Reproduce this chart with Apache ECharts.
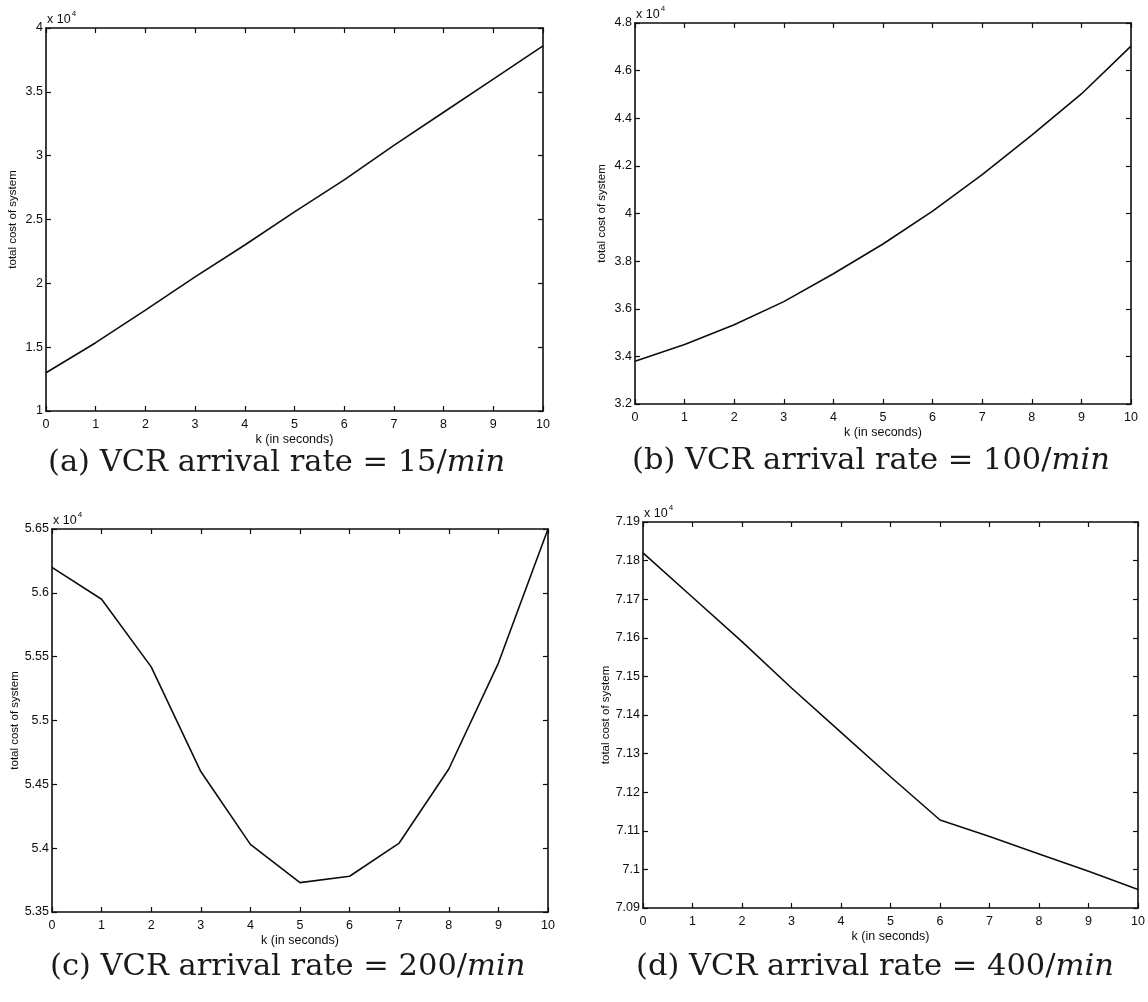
<!DOCTYPE html>
<html>
<head>
<meta charset="utf-8">
<script src="https://cdn.jsdelivr.net/npm/echarts@6/dist/echarts.min.js"></script>
<style>
html,body{margin:0;padding:0;background:#fff;}
#chart{width:1148px;height:1002px;}
</style>
</head>
<body>
<div id="chart"></div>
<script>
// ---- data (values in units of cost; axis labels shown in x 10^4) ----
const kSeconds = [0, 1, 2, 3, 4, 5, 6, 7, 8, 9, 10];
const costRate15  = [13000, 15350, 17900, 20500, 23000, 25600, 28100, 30800, 33400, 36000, 38600];
const costRate100 = [33800, 34500, 35330, 36300, 37470, 38720, 40100, 41630, 43290, 45020, 47030];
const costRate200 = [56200, 55950, 55420, 54600, 54030, 53730, 53780, 54040, 54620, 55450, 56500];
const costRate400 = [71820, 71705, 71590, 71470, 71355, 71240, 71128, 71085, 71040, 70995, 70948];
const captionPrefixes = ['(a) VCR arrival rate = 15/', '(b) VCR arrival rate = 100/', '(c) VCR arrival rate = 200/', '(d) VCR arrival rate = 400/'];
const captionUnit = 'min';
const yTitle = 'total cost of system';
const xTitle = 'k (in seconds)';
const yRanges = [[10000, 40000, 5000], [32000, 48000, 2000], [53500, 56500, 500], [70900, 71900, 100]];
const seriesList = [costRate15, costRate100, costRate200, costRate400];

// ---- layout ----
const grids = [
  {left: 46,  top: 28,  width: 497, height: 383},
  {left: 635, top: 23,  width: 496, height: 381},
  {left: 52,  top: 529, width: 496, height: 383},
  {left: 643, top: 522, width: 497, height: 386}
];
const captionPos = [[48, 468], [632, 466], [50, 972], [636, 972]];

const sans = 'Liberation Sans, Arial, sans-serif';
const ink = '#0d0d0d';
const lineStyle = {color: ink, width: 1.6};
const tick = {show: true, inside: true, length: 5, lineStyle: {color: ink, width: 1.2}};

const xAxes = [], yAxes = [], series = [], graphic = [];
grids.forEach((g, i) => {
  xAxes.push({
    type: 'value', gridIndex: i, min: 0, max: 10, interval: 1, position: 'bottom',
    axisLine: {show: true, onZero: false, lineStyle},
    axisTick: tick, splitLine: {show: false},
    axisLabel: {color: ink, fontFamily: sans, fontSize: 12.5, margin: 7},
    name: xTitle, nameLocation: 'middle', nameGap: 22,
    nameTextStyle: {color: ink, fontFamily: sans, fontSize: 12.5}
  });
  xAxes.push({
    type: 'value', gridIndex: i, min: 0, max: 10, interval: 1, position: 'top',
    axisLine: {show: true, onZero: false, lineStyle},
    axisTick: tick, splitLine: {show: false}, axisLabel: {show: false}
  });
  const r = yRanges[i];
  yAxes.push({
    type: 'value', gridIndex: i, min: r[0], max: r[1], interval: r[2], position: 'left',
    axisLine: {show: true, onZero: false, lineStyle},
    axisTick: tick, splitLine: {show: false},
    axisLabel: {color: ink, fontFamily: sans, fontSize: 12.5, margin: 3,
      formatter: v => String(+(v / 1e4).toFixed(4))},
    name: yTitle, nameLocation: 'middle', nameGap: 27, nameRotate: 90,
    nameTextStyle: {color: ink, fontFamily: sans, fontSize: 11.5}
  });
  yAxes.push({
    type: 'value', gridIndex: i, min: r[0], max: r[1], interval: r[2], position: 'right',
    axisLine: {show: true, onZero: false, lineStyle},
    axisTick: tick, splitLine: {show: false}, axisLabel: {show: false}
  });
  series.push({
    type: 'line', xAxisIndex: 2 * i, yAxisIndex: 2 * i,
    data: kSeconds.map((k, j) => [k, seriesList[i][j]]),
    showSymbol: false, symbol: 'none', smooth: false,
    lineStyle: {color: ink, width: 1.6}, animation: false
  });
  graphic.push({
    type: 'text', left: g.left + 1, top: g.top - 18,
    style: {
      text: '{b|x 10}{s|4}',
      rich: {
        b: {fontFamily: sans, fontSize: 12.5, fill: ink, verticalAlign: 'bottom'},
        s: {fontFamily: sans, fontSize: 8, fill: ink, verticalAlign: 'top', padding: [0, 0, 8, 1]}
      }
    }
  });
  graphic.push({
    type: 'text', left: captionPos[i][0], top: captionPos[i][1] - 20,
    style: {
      text: '{n|' + captionPrefixes[i] + '}{it|' + captionUnit + '}',
      rich: {
        n: {fontFamily: 'DejaVu Serif', fontSize: 30.5, fill: '#1a1a1a'},
        it: {fontFamily: 'DejaVu Serif', fontStyle: 'italic', fontSize: 30.5, fill: '#1a1a1a'}
      }
    }
  });
});

const chart = echarts.init(document.getElementById('chart'), null, {renderer: 'canvas'});
chart.setOption({
  backgroundColor: '#ffffff',
  animation: false,
  grid: grids.map(g => Object.assign({containLabel: false}, g)),
  xAxis: xAxes,
  yAxis: yAxes,
  series: series,
  graphic: graphic
});
</script>
</body>
</html>
